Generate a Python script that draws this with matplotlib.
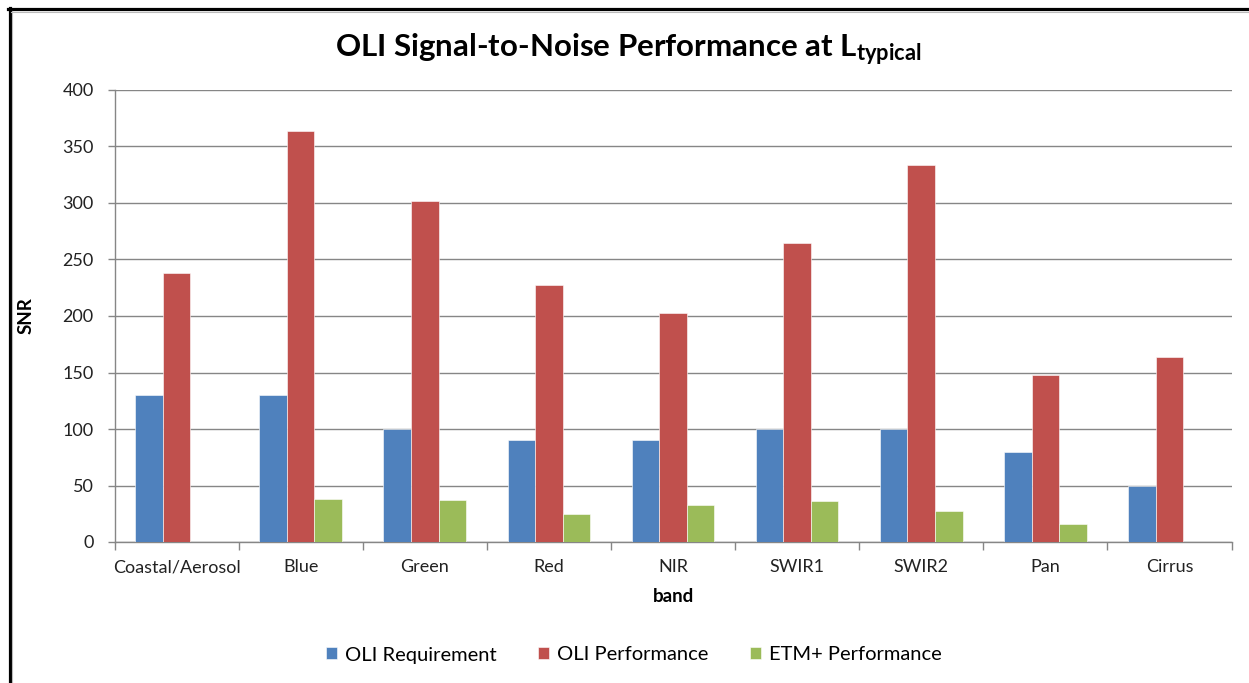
"""
OLI signal-to-noise bar chart, recreated with matplotlib.
"""

import numpy as np
import matplotlib
matplotlib.use('Agg')
import matplotlib.pyplot as plt
from matplotlib.lines import Line2D

# --- data ---
bands = ['Coastal/Aerosol', 'Blue', 'Green', 'Red', 'NIR',
         'SWIR1', 'SWIR2', 'Pan', 'Cirrus']
oli_requirement = [130, 130, 100, 90, 90, 100, 100, 80, 50]
oli_performance = [238, 364, 302, 227, 203, 265, 334, 148, 164]
etm_performance = [np.nan, 38, 37, 25, 33, 36, 27, 16, np.nan]
series_names = ['OLI Requirement', 'OLI Performance', 'ETM+ Performance']
y_ticks = [0, 50, 100, 150, 200, 250, 300, 350, 400]

colors = ['#4F81BD', '#C0504D', '#9BBB59']
grid_color = '#868686'

plt.rcParams['font.family'] = ['Lato', 'DejaVu Sans']
plt.rcParams['mathtext.fontset'] = 'custom'
plt.rcParams['mathtext.rm'] = 'Lato'
plt.rcParams['mathtext.bf'] = 'Lato:bold'
plt.rcParams['mathtext.it'] = 'Lato:italic'

W, H = 1249, 683
fig = plt.figure(figsize=(W / 100, H / 100), dpi=100, facecolor='white')
ax = fig.add_axes([114.5 / W, (H - 542) / H, (1231.5 - 114.5) / W, (542 - 90) / H])

x = np.arange(len(bands))
width = 0.222
for i, (vals, name) in enumerate(zip([oli_requirement, oli_performance, etm_performance],
                                     series_names)):
    ax.bar(x + (i - 1) * width, vals, width, color=colors[i], label=name,
           edgecolor='white', linewidth=0.4, zorder=3)

ax.set_xlim(-0.5, len(bands) - 0.5)
ax.set_ylim(0, 400)
ax.set_yticks(y_ticks)
ax.yaxis.grid(True, color=grid_color, linewidth=1.0, zorder=0)
ax.set_axisbelow(True)

# category labels centred, tick marks on the boundaries
ax.set_xticks(x)
ax.set_xticklabels(bands, fontsize=13, color='#222222')
ax.tick_params(axis='x', which='major', length=0, pad=12.5)
ax.set_xticks(np.arange(-0.5, len(bands)), minor=True)
ax.tick_params(axis='x', which='minor', length=6, width=1, color=grid_color,
               direction='out')
ax.tick_params(axis='y', length=5, width=1, color=grid_color, labelsize=13,
               labelcolor='#222222', pad=10)

for side in ['top', 'right']:
    ax.spines[side].set_visible(False)
for side in ['left', 'bottom']:
    ax.spines[side].set_color(grid_color)
    ax.spines[side].set_linewidth(1.0)

ax.set_ylabel('SNR', fontsize=13.5, fontweight='bold')
ax.set_xlabel('band', fontsize=13.5, fontweight='bold', labelpad=9)
ax.yaxis.set_label_coords(-79.5 / (1231.5 - 114.5), 0.5)

fig.text(628 / W, 1 - 50 / H, r'OLI Signal-to-Noise Performance at $\mathbf{L_{typical}}$',
         fontsize=22.5, fontweight='bold', ha='center', va='center')

ax.legend(loc='center', bbox_to_anchor=(634 / W, 1 - 655 / H),
          bbox_transform=fig.transFigure, ncol=3, frameon=False,
          fontsize=14.5, handlelength=0.55, handleheight=0.55,
          handletextpad=0.4, columnspacing=2.05)

# outer chart border (cropped on right and bottom)
fig.add_artist(Line2D([9.5 / W, 9.5 / W], [0, 1 - 8 / H], transform=fig.transFigure,
                      color='black', linewidth=2.3))
fig.add_artist(Line2D([8 / W, 1], [1 - 9 / H, 1 - 9 / H], transform=fig.transFigure,
                      color='black', linewidth=2.3))
fig.add_artist(Line2D([12 / W, 12 / W], [0, 1 - 11 / H], transform=fig.transFigure,
                      color='#bbbbbb', linewidth=0.8))
fig.add_artist(Line2D([11 / W, 1], [1 - 11.5 / H, 1 - 11.5 / H], transform=fig.transFigure,
                      color='#bbbbbb', linewidth=0.8))

fig.savefig('out.png', dpi=100, facecolor='white')
